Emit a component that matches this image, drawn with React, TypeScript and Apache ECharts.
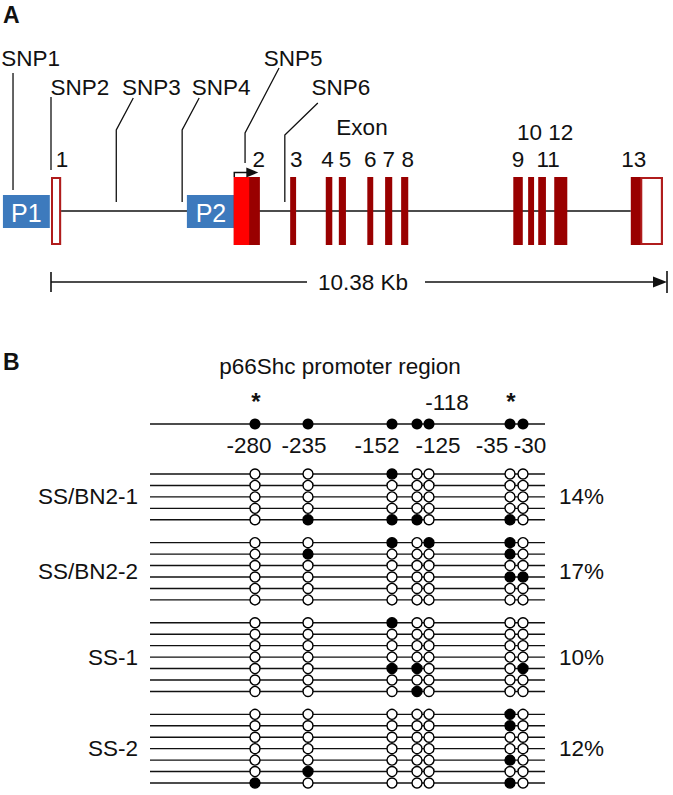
import React, { useEffect, useRef } from "react";
import * as echarts from "echarts";

// ===================== DATA =====================
// Panel A — p66Shc gene structure (positions in kb, exon 1 start = 0)
const geneLengthKb = 10.38;
const scaleBarLabel = "10.38 Kb";
const exonHeading = "Exon";

const promoterNames = ["P1", "P2"];
const promoterStartKb = [-0.81, 2.29];
const promoterEndKb = [-0.02, 3.1];

const exonNumbers = ["1", "2", "3", "4", "5", "6", "7", "8", "9", "10", "11", "12", "13"];
const exonStartKb = [0.0, 3.08, 4.03, 4.63, 4.85, 5.33, 5.63, 5.9, 7.79, 8.04, 8.21, 8.48, 9.77];
const exonEndKb = [0.17, 3.52, 4.13, 4.74, 4.97, 5.43, 5.75, 6.02, 7.95, 8.14, 8.34, 8.7, 10.31];

// untranslated (open) exon parts and the p66-specific part of exon 2
const untranslatedStartKb = [0.0, 9.93];
const untranslatedEndKb = [0.17, 10.31];
const p66SpecificStartKb = [3.08];
const p66SpecificEndKb = [3.34];
const tssKb = [3.08];

const snpNames = ["SNP1", "SNP2", "SNP3", "SNP4", "SNP5", "SNP6"];
const snpKb = [-0.64, 0.0, 1.1, 2.21, 3.27, 3.94];

// Panel B — CpG methylation of the p66Shc promoter
const panelBTitle = "p66Shc promoter region";
const cpgSites = ["-280", "-235", "-152", "-125", "-118", "-35", "-30"];
const starredSites = ["-280", "-35"];
const groupNames = ["SS/BN2-1", "SS/BN2-2", "SS-1", "SS-2"];
const groupPercents = ["14%", "17%", "10%", "12%"];

// 1 = methylated (filled), 0 = unmethylated (open); columns follow cpgSites
const ssbn2_1 = [
  [0, 0, 1, 0, 0, 0, 0],
  [0, 0, 0, 0, 0, 0, 0],
  [0, 0, 0, 0, 0, 0, 0],
  [0, 0, 0, 0, 0, 0, 0],
  [0, 1, 1, 1, 0, 1, 0],
];
const ssbn2_2 = [
  [0, 0, 1, 0, 1, 1, 0],
  [0, 1, 0, 0, 0, 1, 0],
  [0, 0, 0, 0, 0, 0, 0],
  [0, 0, 0, 0, 0, 1, 1],
  [0, 0, 0, 0, 0, 0, 0],
  [0, 0, 0, 0, 0, 0, 0],
];
const ss_1 = [
  [0, 0, 1, 0, 0, 0, 0],
  [0, 0, 0, 0, 0, 0, 0],
  [0, 0, 0, 0, 0, 0, 0],
  [0, 0, 0, 0, 0, 0, 0],
  [0, 0, 1, 1, 0, 0, 1],
  [0, 0, 0, 0, 0, 0, 0],
  [0, 0, 0, 1, 0, 0, 0],
];
const ss_2 = [
  [0, 0, 0, 0, 0, 1, 0],
  [0, 0, 0, 0, 0, 1, 0],
  [0, 0, 0, 0, 0, 0, 0],
  [0, 0, 0, 0, 0, 0, 0],
  [0, 0, 0, 0, 0, 1, 0],
  [0, 1, 0, 0, 0, 0, 0],
  [1, 0, 0, 0, 0, 1, 0],
];

// ===================== LAYOUT / STYLE =====================
const W = 673;
const H = 795;
const FONT = "'Liberation Sans', Arial, Helvetica, sans-serif";
const FS = 22.5;
const DARK_RED = "#990000";
const BRIGHT_RED = "#FF0000";
const OPEN_RED = "#B01C1C";
const BLUE = "#3D7ABD";

// panel A (y in pixels)
const A_LEFT = 51;
const A_WIDTH = 616;
const GENE_Y = 211;
const EXON_TOP = 177;
const EXON_BOTTOM = 245;
const PROM_TOP = 195;
const PROM_BOTTOM = 228;
const SCALE_Y = 282;
const EXON_LABEL_DX = [6, 12, 3, -1.5, 2.5, 0, 0, 3, 0, -1.5, 6, 0, -13];
const EXON_LABEL_Y = [159, 159, 159, 159, 159, 159, 159, 159, 159, 132, 159, 132, 159];
const SNP_LAYOUT = [
  { bottom: 190, kink: 73, topDx: 0, top: 73, labelDx: 17.5, labelY: 58 },
  { bottom: 170, kink: 97, topDx: 0, top: 97, labelDx: 29, labelY: 87 },
  { bottom: 202, kink: 130, topDx: 17, top: 98, labelDx: 35, labelY: 87 },
  { bottom: 202, kink: 130, topDx: 17, top: 98, labelDx: 39, labelY: 87 },
  { bottom: 163, kink: 133, topDx: 34, top: 68, labelDx: 48, labelY: 58 },
  { bottom: 202, kink: 135, topDx: 33, top: 103, labelDx: 56, labelY: 87 },
];

// panel B (x in pixels, y in clone rows)
const B_TOP = 474;
const B_ROWS = 27;
const B_HEIGHT = 309;
const ROW_PX = B_HEIGHT / B_ROWS;
const toRow = (py: number) => (py - B_TOP) / ROW_PX;
const LINE_X0 = 150;
const LINE_X1 = 545;
const SITE_X = [255, 308, 392, 417, 429, 510, 523];
const SITE_LABEL_DX = [-6, -4, -15, 21, 18, -18, 7];
const SITE_LABEL_ABOVE = [false, false, false, false, true, false, false];
const PROMOTER_Y = 424;
const SITE_LABEL_Y = 445;
const SITE_LABEL_ABOVE_Y = 402;
const STAR_Y = 401;
const GROUP_LABEL_RIGHT = 138;
const PERCENT_LEFT = 559;

const textStyle = (text: string, extra: any = {}) => ({
  text,
  fill: "#111",
  fontSize: FS,
  fontFamily: FONT,
  align: "center",
  verticalAlign: "middle",
  ...extra,
});

function buildOption() {
  // rows of panel B
  const groups = [ssbn2_1, ssbn2_2, ss_1, ss_2];
  const rowY: number[] = [];
  const groupMid: number[] = [];
  const openPts: number[][] = [];
  const filledPts: number[][] = [];
  let r = 0;
  groups.forEach((g) => {
    const start = r;
    g.forEach((row) => {
      rowY.push(r);
      row.forEach((v, j) => (v ? filledPts : openPts).push([SITE_X[j], r]));
      r++;
    });
    groupMid.push((start + r - 1) / 2);
    r++;
  });

  const A = { xAxisIndex: 0, yAxisIndex: 0 };
  const B = { xAxisIndex: 1, yAxisIndex: 1 };

  const series: any[] = [
    // backbone
    {
      type: "custom", ...A, clip: false, z: 1,
      data: [[exonEndKb[0], exonStartKb[exonStartKb.length - 1]]],
      renderItem: (_p: any, api: any) => {
        const s = api.coord([api.value(0), GENE_Y]);
        const e = api.coord([api.value(1), GENE_Y]);
        return { type: "line", shape: { x1: s[0], y1: s[1], x2: e[0], y2: e[1] }, style: { stroke: "#111", lineWidth: 1.6 } };
      },
    },
    // promoters
    {
      type: "custom", ...A, clip: false, z: 2,
      data: promoterStartKb.map((s, i) => [s, promoterEndKb[i]]),
      renderItem: (p: any, api: any) => {
        const s = api.coord([api.value(0), PROM_TOP]);
        const e = api.coord([api.value(1), PROM_BOTTOM]);
        return {
          type: "group",
          children: [
            { type: "rect", shape: { x: s[0], y: s[1], width: e[0] - s[0], height: e[1] - s[1] }, style: { fill: BLUE } },
            { type: "text", x: (s[0] + e[0]) / 2, y: (s[1] + e[1]) / 2 + 1, style: textStyle(promoterNames[p.dataIndex], { fill: "#fff", fontSize: 25 }) },
          ],
        };
      },
    },
    // exons (coding, dark red)
    {
      type: "custom", ...A, clip: false, z: 3,
      data: exonStartKb.map((s, i) => [s, exonEndKb[i]]),
      renderItem: (p: any, api: any) => {
        const s = api.coord([api.value(0), EXON_TOP]);
        const e = api.coord([api.value(1), EXON_BOTTOM]);
        const i = p.dataIndex;
        return {
          type: "group",
          children: [
            { type: "rect", shape: { x: s[0], y: s[1], width: e[0] - s[0], height: e[1] - s[1] }, style: { fill: DARK_RED } },
            { type: "text", x: (s[0] + e[0]) / 2 + EXON_LABEL_DX[i], y: EXON_LABEL_Y[i], style: textStyle(exonNumbers[i]) },
          ],
        };
      },
    },
    // p66-specific part of exon 2
    {
      type: "custom", ...A, clip: false, z: 4,
      data: p66SpecificStartKb.map((s, i) => [s, p66SpecificEndKb[i]]),
      renderItem: (_p: any, api: any) => {
        const s = api.coord([api.value(0), EXON_TOP]);
        const e = api.coord([api.value(1), EXON_BOTTOM]);
        return { type: "rect", shape: { x: s[0], y: s[1], width: e[0] - s[0], height: e[1] - s[1] }, style: { fill: BRIGHT_RED } };
      },
    },
    // untranslated open boxes
    {
      type: "custom", ...A, clip: false, z: 4,
      data: untranslatedStartKb.map((s, i) => [s, untranslatedEndKb[i]]),
      renderItem: (_p: any, api: any) => {
        const s = api.coord([api.value(0), EXON_TOP]);
        const e = api.coord([api.value(1), EXON_BOTTOM]);
        return {
          type: "rect",
          shape: { x: s[0] + 1, y: s[1] + 1, width: e[0] - s[0] - 2, height: e[1] - s[1] - 2 },
          style: { fill: "#fff", stroke: OPEN_RED, lineWidth: 2 },
        };
      },
    },
    // transcription start arrow
    {
      type: "custom", ...A, clip: false, z: 5,
      data: tssKb.map((k) => [k]),
      renderItem: (_p: any, api: any) => {
        const b = api.coord([api.value(0), EXON_TOP]);
        const x = b[0] + 0.5;
        const yTop = EXON_TOP - 4.5;
        return {
          type: "group",
          children: [
            { type: "polyline", shape: { points: [[x, EXON_TOP], [x, yTop], [x + 13, yTop]] }, style: { stroke: "#111", lineWidth: 1.5, fill: null } },
            { type: "polygon", shape: { points: [[x + 12, yTop - 5], [x + 24, yTop], [x + 12, yTop + 5]] }, style: { fill: "#111" } },
          ],
        };
      },
    },
    // SNPs
    {
      type: "custom", ...A, clip: false, z: 6,
      data: snpKb.map((k) => [k]),
      renderItem: (p: any, api: any) => {
        const i = p.dataIndex;
        const L = SNP_LAYOUT[i];
        const bx = api.coord([api.value(0), L.bottom])[0];
        const pts = [[bx, L.bottom], [bx, L.kink], [bx + L.topDx, L.top]];
        return {
          type: "group",
          children: [
            { type: "polyline", shape: { points: pts }, style: { stroke: "#111", lineWidth: 1.3, fill: null } },
            { type: "text", x: bx + L.labelDx, y: L.labelY, style: textStyle(snpNames[i]) },
          ],
        };
      },
    },
    // scale bar
    {
      type: "custom", ...A, clip: false, z: 6,
      data: [[0, geneLengthKb]],
      renderItem: (_p: any, api: any) => {
        const s = api.coord([api.value(0), SCALE_Y]);
        const e = api.coord([api.value(1), SCALE_Y]);
        const mid = (s[0] + e[0]) / 2 + 4;
        const y = s[1];
        return {
          type: "group",
          children: [
            { type: "line", shape: { x1: s[0], y1: y - 10, x2: s[0], y2: y + 10 }, style: { stroke: "#111", lineWidth: 1.6 } },
            { type: "line", shape: { x1: s[0], y1: y, x2: mid - 56, y2: y }, style: { stroke: "#111", lineWidth: 1.6 } },
            { type: "text", x: mid, y: y, style: textStyle(scaleBarLabel) },
            { type: "line", shape: { x1: mid + 62, y1: y, x2: e[0] - 8, y2: y }, style: { stroke: "#111", lineWidth: 1.6 } },
            { type: "polygon", shape: { points: [[e[0] - 14, y - 5.5], [e[0], y], [e[0] - 14, y + 5.5]] }, style: { fill: "#111" } },
            { type: "line", shape: { x1: e[0], y1: y - 11, x2: e[0], y2: y + 11 }, style: { stroke: "#111", lineWidth: 1.6 } },
          ],
        };
      },
    },

    // ---------- panel B ----------
    // promoter line + clone lines
    {
      type: "custom", ...B, clip: false, z: 1,
      data: [toRow(PROMOTER_Y), ...rowY].map((y) => [LINE_X0, LINE_X1, y]),
      renderItem: (_p: any, api: any) => {
        const s = api.coord([api.value(0), api.value(2)]);
        const e = api.coord([api.value(1), api.value(2)]);
        return { type: "line", shape: { x1: s[0], y1: s[1], x2: e[0], y2: e[1] }, style: { stroke: "#111", lineWidth: 1.4 } };
      },
    },
    // CpG sites on promoter line
    {
      type: "scatter", ...B, clip: false, z: 3, symbol: "circle", symbolSize: 11,
      itemStyle: { color: "#000", opacity: 1 },
      data: cpgSites.map((_s, j) => [SITE_X[j], toRow(PROMOTER_Y)]),
    },
    // unmethylated
    {
      type: "scatter", ...B, clip: false, z: 3, symbol: "circle", symbolSize: 10,
      itemStyle: { color: "#fff", borderColor: "#000", borderWidth: 1.4, opacity: 1 },
      data: openPts,
    },
    // methylated
    {
      type: "scatter", ...B, clip: false, z: 3, symbol: "circle", symbolSize: 10,
      itemStyle: { color: "#000", borderColor: "#000", borderWidth: 1.4, opacity: 1 },
      data: filledPts,
    },
    // site labels and stars
    {
      type: "custom", ...B, clip: false, z: 4,
      data: cpgSites.map((_s, j) => [SITE_X[j]]),
      renderItem: (p: any, api: any) => {
        const j = p.dataIndex;
        const x = api.coord([api.value(0), 0])[0];
        const ly = api.coord([0, toRow(SITE_LABEL_ABOVE[j] ? SITE_LABEL_ABOVE_Y : SITE_LABEL_Y)])[1];
        const children: any[] = [
          { type: "text", x: x + SITE_LABEL_DX[j], y: ly, style: textStyle(cpgSites[j]) },
        ];
        if (starredSites.includes(cpgSites[j])) {
          const sy = api.coord([0, toRow(STAR_Y)])[1];
          children.push({ type: "text", x: x + 1, y: sy, style: textStyle("*", { fontWeight: "bold", fontSize: 24 }) });
        }
        return { type: "group", children };
      },
    },
    // group labels + percentages
    {
      type: "custom", ...B, clip: false, z: 4,
      data: groupMid.map((m) => [m]),
      renderItem: (p: any, api: any) => {
        const i = p.dataIndex;
        const y = api.coord([0, api.value(0)])[1];
        return {
          type: "group",
          children: [
            { type: "text", x: GROUP_LABEL_RIGHT, y, style: textStyle(groupNames[i], { align: "right" }) },
            { type: "text", x: PERCENT_LEFT, y, style: textStyle(groupPercents[i], { align: "left" }) },
          ],
        };
      },
    },
  ];

  return {
    animation: false,
    backgroundColor: "#fff",
    grid: [
      { left: A_LEFT, width: A_WIDTH, top: 0, height: 300 },
      { left: 0, width: W, top: B_TOP, height: B_HEIGHT },
    ],
    xAxis: [
      { type: "value", gridIndex: 0, min: 0, max: geneLengthKb, show: false },
      { type: "value", gridIndex: 1, min: 0, max: W, show: false },
    ],
    yAxis: [
      { type: "value", gridIndex: 0, min: 0, max: 300, inverse: true, show: false },
      { type: "value", gridIndex: 1, min: 0, max: B_ROWS, inverse: true, show: false },
    ],
    graphic: [
      { type: "text", left: 3, top: 3, style: { text: "A", fontSize: 23, fontWeight: "bold", fontFamily: FONT, fill: "#111" } },
      { type: "text", left: 3, top: 350, style: { text: "B", fontSize: 23, fontWeight: "bold", fontFamily: FONT, fill: "#111" } },
      { type: "text", x: 362, y: 127, style: textStyle(exonHeading) },
      { type: "text", x: 340, y: 366, style: textStyle(panelBTitle) },
    ],
    series,
  };
}

export default function App() {
  const ref = useRef<HTMLDivElement>(null);
  useEffect(() => {
    document.body.style.margin = "0";
    const chart = echarts.init(ref.current!, null, { renderer: "svg" });
    chart.setOption(buildOption() as any);
    return () => chart.dispose();
  }, []);
  return (
    <div
      ref={ref}
      style={{ position: "absolute", left: 0, top: 0, width: W, height: H, background: "#fff" }}
    />
  );
}
